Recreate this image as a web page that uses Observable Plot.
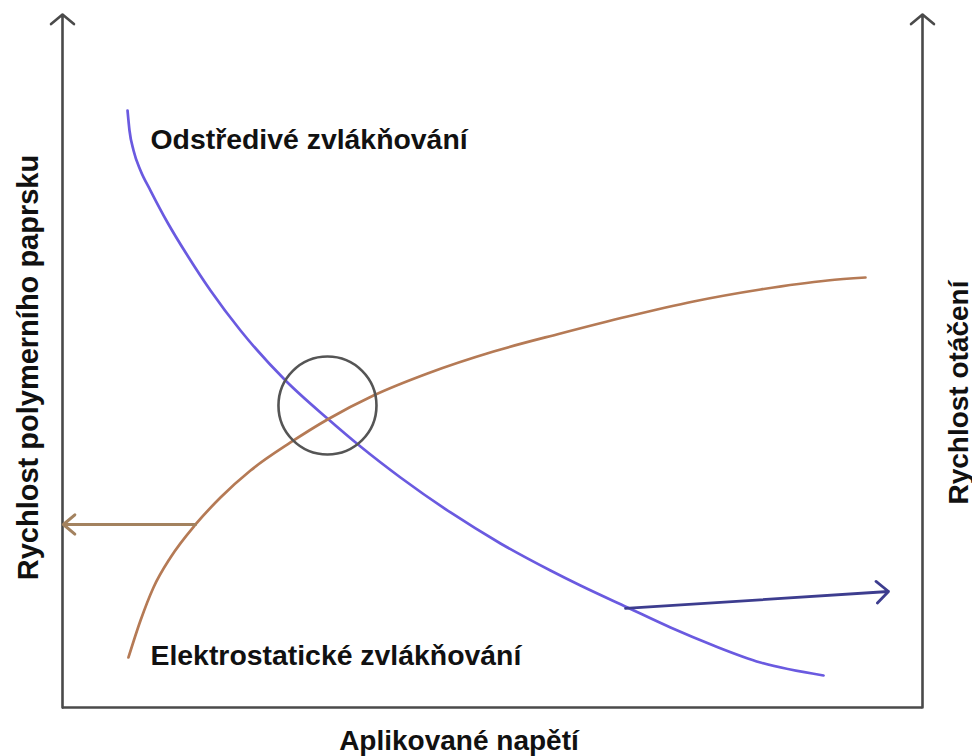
<!DOCTYPE html>
<html>
<head>
<meta charset="utf-8">
<script src="https://cdn.jsdelivr.net/npm/d3@7"></script>
<script src="https://cdn.jsdelivr.net/npm/@observablehq/plot@0.6"></script>
<style>
  html, body { margin: 0; padding: 0; background: #fff; }
  #chart svg { display: block; }
</style>
</head>
<body>
<div id="chart"></div>
<script>
// Conceptual axes: applied voltage (x) vs. speed (y), both 0–100
const centrifugalX = [7.56, 7.79, 8.26, 9.07, 10.23, 12.21, 14.53, 17.21, 20.70, 25.93, 30.81, 34.65, 39.30, 45.12, 50.93, 56.74, 60.23, 65.70, 70.70, 75.70, 81.16, 88.49];
const centrifugalY = [86.15, 83.26, 80.38, 77.49, 74.60, 69.99, 65.22, 60.17, 54.40, 47.19, 41.70, 37.66, 33.19, 28.14, 23.67, 19.77, 17.60, 14.43, 11.54, 8.95, 6.49, 4.62];

const electroX = [7.67, 9.07, 10.58, 12.56, 15.47, 18.37, 21.86, 26.51, 30.81, 36.16, 42.44, 50.12, 57.91, 65.70, 73.37, 81.16, 88.95, 93.37];
const electroY = [7.22, 12.55, 17.32, 21.65, 26.41, 30.30, 34.20, 38.24, 41.56, 45.02, 48.20, 51.37, 53.97, 56.42, 58.59, 60.32, 61.62, 62.05];

const curveNames = ["Odstředivé zvlákňování", "Elektrostatické zvlákňování"];
const curveLabelX = [10.23, 10.23];
const curveLabelY = [81.96, 7.40];

const crossing = [{x: 30.81, y: 43.58}];

const brownArrow = [{x1: 15.47, y1: 26.41, x2: 0.1, y2: 26.41}];
const blueArrow = [{x1: 65.47, y1: 14.29, x2: 96.05, y2: 16.74}];

const axisArrowX = [0, 100];

// axis titles and their anchor points (in the same 0–100 units)
const titles = ["Aplikované napětí", "Rychlost polymerního paprsku", "Rychlost otáčení"];
const titleX = [46.1, -3.95, 104.19];
const titleY = [-4.91, 49.06, 45.45];
const titleRotate = [0, -90, -90];

const centrifugal = centrifugalX.map((x, i) => ({x, y: centrifugalY[i]}));
const electro = electroX.map((x, i) => ({x, y: electroY[i]}));
const curveLabels = curveNames.map((t, i) => ({t, x: curveLabelX[i], y: curveLabelY[i]}));
const titleRows = titles.map((t, i) => ({t, x: titleX[i], y: titleY[i], r: titleRotate[i]}));

const FONT = "'Liberation Sans', Arial, Helvetica, sans-serif";

const chart = Plot.plot({
  width: 972,
  height: 756,
  marginLeft: 62,
  marginRight: 50,
  marginTop: 14,
  marginBottom: 49,
  style: {fontFamily: FONT, background: "#fff", overflow: "visible"},
  x: {domain: [0, 100], axis: null},
  y: {domain: [0, 100], axis: null},
  marks: [
    // axes
    Plot.ruleY([0], {stroke: "#4a4a4a", strokeWidth: 2.6}),
    Plot.arrow(axisArrowX, {
      x1: d => d, x2: d => d, y1: 0, y2: 100,
      stroke: "#4a4a4a", strokeWidth: 2.6, headLength: 8.6, headAngle: 100, bend: 0
    }),
    // curves
    Plot.line(centrifugal, {x: "x", y: "y", stroke: "#6a5ae0", strokeWidth: 2.7, curve: "monotone-x"}),
    Plot.line(electro, {x: "x", y: "y", stroke: "#b57a55", strokeWidth: 2.7, curve: "monotone-x"}),
    // crossing circle
    Plot.dot(crossing, {x: "x", y: "y", r: 49, stroke: "#555", strokeWidth: 2.6, fill: "none"}),
    // pointer arrows
    Plot.arrow(brownArrow, {x1: "x1", y1: "y1", x2: "x2", y2: "y2",
      stroke: "#a3825f", strokeWidth: 3, headLength: 7.5, headAngle: 80, bend: 0}),
    Plot.arrow(blueArrow, {x1: "x1", y1: "y1", x2: "x2", y2: "y2",
      stroke: "#3d3d8f", strokeWidth: 2.8, headLength: 8.6, headAngle: 85, bend: 0}),
    // curve labels
    Plot.text(curveLabels, {x: "x", y: "y", text: "t", textAnchor: "start",
      fontSize: 28.4, fontWeight: "bold", fill: "#111"}),
    // axis titles
    Plot.text(titleRows.slice(0, 1).concat(titleRows.slice(2)), {x: "x", y: "y", text: "t", rotate: "r", textAnchor: "middle",
      fontSize: 28, fontWeight: "bold", fill: "#111"}),
    Plot.text(titleRows.slice(1, 2), {x: "x", y: "y", text: "t", rotate: "r", textAnchor: "middle",
      fontSize: 29, fontWeight: "bold", fill: "#111"})
  ]
});

document.getElementById("chart").appendChild(chart);
</script>
</body>
</html>
